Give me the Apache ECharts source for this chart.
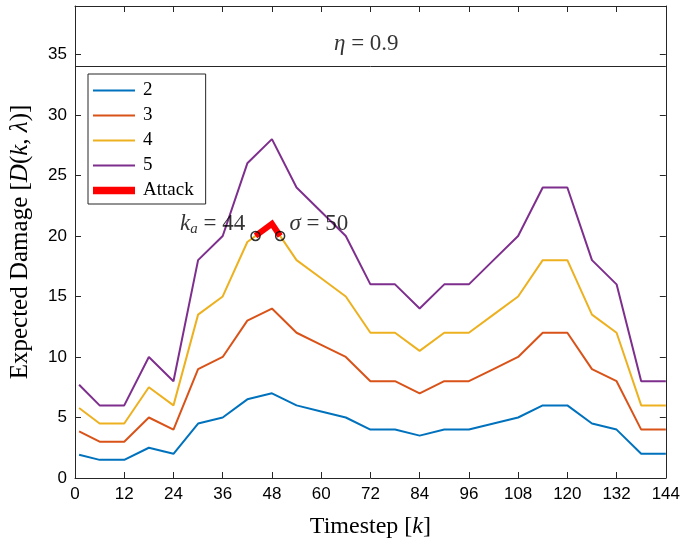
<!DOCTYPE html>
<html>
<head>
<meta charset="utf-8">
<script src="https://cdn.jsdelivr.net/npm/echarts@6/dist/echarts.min.js"></script>
<style>
  html, body { margin: 0; padding: 0; background: #fff; }
  #main { width: 683px; height: 548px; }
</style>
</head>
<body>
<div id="main"></div>
<script>
  // timesteps and expected damage for each lambda
  var steps = [1, 6, 12, 18, 24, 30, 36, 42, 48, 54, 60, 66, 72, 78, 84, 90, 96, 102, 108, 114, 120, 126, 132, 138, 144];
  var dmg2 = [1.92, 1.5, 1.5, 2.5, 2, 4.5, 5, 6.5, 7, 6, 5.5, 5, 4, 4, 3.5, 4, 4, 4.5, 5, 6, 6, 4.5, 4, 2, 2];
  var dmg3 = [3.85, 3, 3, 5, 4, 9, 10, 13, 14, 12, 11, 10, 8, 8, 7, 8, 8, 9, 10, 12, 12, 9, 8, 4, 4];
  var dmg4 = [5.78, 4.5, 4.5, 7.5, 6, 13.5, 15, 19.5, 21, 18, 16.5, 15, 12, 12, 10.5, 12, 12, 13.5, 15, 18, 18, 13.5, 12, 6, 6];
  var dmg5 = [7.7, 6, 6, 10, 8, 18, 20, 26, 28, 24, 22, 20, 16, 16, 14, 16, 16, 18, 20, 24, 24, 18, 16, 8, 8];
  var attackX = [44, 48, 50];
  var attackY = [20, 21, 20];
  var bandY = 34;
  var yMax = 39;

  var colors = ['#0072BD', '#D95319', '#EDB120', '#7E2F8E'];
  var serif = '"Liberation Serif", "DejaVu Serif", serif';
  var sans = '"Liberation Sans", Arial, sans-serif';
  var axisCol = '#262626';

  function pairs(xs, ys) {
    return xs.map(function (x, i) { return [x, ys[i]]; });
  }

  function lineSeries(name, ys, color) {
    return {
      name: name,
      type: 'line',
      data: pairs(steps, ys),
      showSymbol: false,
      symbol: 'none',
      lineStyle: { color: color, width: 2 },
      itemStyle: { color: color },
      z: 3
    };
  }

  function ticks() {
    return { show: true, inside: true, length: 6, lineStyle: { color: axisCol } };
  }

  var myChart = echarts.init(document.getElementById('main'));

  var thin = 'path://M0,0H40V2H0Z';
  var thick = 'path://M0,0H40V7H0Z';

  var option = {
    animation: false,
    grid: { left: 74, right: 14, top: 6, bottom: 70 },
    legend: {
      orient: 'vertical',
      left: 88,
      top: 74,
      padding: [7, 12, 4, 5],
      itemWidth: 42,
      itemHeight: 14,
      itemGap: 6,
      backgroundColor: '#fff',
      borderColor: axisCol,
      borderWidth: 1,
      borderRadius: 0,
      textStyle: { fontFamily: serif, fontSize: 19, lineHeight: 17, color: '#000', padding: [0, 0, 0, 3] },
      data: [
        { name: '2', icon: thin },
        { name: '3', icon: thin },
        { name: '4', icon: thin },
        { name: '5', icon: thin },
        { name: 'Attack', icon: thick }
      ]
    },
    xAxis: [{
      type: 'value',
      min: 0,
      max: 144,
      interval: 12,
      name: 'Timestep [{it|k}]',
      nameLocation: 'middle',
      nameGap: 37,
      nameTextStyle: {
        fontFamily: serif, fontSize: 24, color: '#000',
        rich: { it: { fontFamily: serif, fontStyle: 'italic', fontSize: 24, color: '#000' } }
      },
      axisLine: { onZero: false, lineStyle: { color: axisCol } },
      axisTick: ticks(),
      axisLabel: { fontFamily: sans, fontSize: 17, color: '#000', margin: 8 },
      splitLine: { show: false }
    }, {
      type: 'value',
      position: 'top',
      min: 0,
      max: 144,
      interval: 12,
      axisLine: { show: true, onZero: false, lineStyle: { color: axisCol } },
      axisTick: ticks(),
      axisLabel: { show: false },
      splitLine: { show: false }
    }],
    yAxis: [{
      type: 'value',
      min: 0,
      max: yMax,
      interval: 5,
      name: 'Expected Damage [{it|D}({it|k}, {it|λ})]',
      nameLocation: 'middle',
      nameGap: 42,
      nameTextStyle: {
        fontFamily: serif, fontSize: 25, color: '#000',
        rich: { it: { fontFamily: serif, fontStyle: 'italic', fontSize: 25, color: '#000' } }
      },
      axisLine: { show: true, onZero: false, lineStyle: { color: axisCol } },
      axisTick: ticks(),
      axisLabel: {
        fontFamily: sans, fontSize: 17, color: '#000', margin: 8,
        showMaxLabel: false
      },
      splitLine: { show: false }
    }, {
      type: 'value',
      position: 'right',
      min: 0,
      max: yMax,
      interval: 5,
      axisLine: { show: true, onZero: false, lineStyle: { color: axisCol } },
      axisTick: ticks(),
      axisLabel: { show: false },
      splitLine: { show: false }
    }],
    series: [
      lineSeries('2', dmg2, colors[0]),
      lineSeries('3', dmg3, colors[1]),
      lineSeries('4', dmg4, colors[2]),
      lineSeries('5', dmg5, colors[3]),
      {
        name: 'Attack',
        type: 'line',
        data: pairs(attackX, attackY),
        symbol: 'none',
        lineStyle: { color: '#FF0000', width: 6, join: 'miter' },
        itemStyle: { color: '#FF0000' },
        z: 5
      },
      {
        // attack start / end markers with labels
        name: 'marks',
        type: 'scatter',
        data: [
          { value: [attackX[0], attackY[0]], label: { show: true, position: 'left', distance: 5, offset: [0, -12], formatter: '{i|k}{s|a}{n| = 44}' } },
          { value: [attackX[2], attackY[2]], label: { show: true, position: 'right', distance: 4, offset: [0, -12], formatter: '{i|σ}{n| = 50}' } }
        ],
        symbol: 'circle',
        symbolSize: 9,
        itemStyle: { color: 'rgba(0,0,0,0)', borderColor: '#000', borderWidth: 1.5 },
        label: {
          color: '#000',
          rich: {
            i: { fontFamily: serif, fontStyle: 'italic', fontSize: 23, color: '#000' },
            s: { fontFamily: serif, fontStyle: 'italic', fontSize: 15, color: '#000', padding: [11, 0, 0, 0] },
            n: { fontFamily: serif, fontSize: 23, color: '#000' }
          }
        },
        silent: true,
        z: 6
      },
      {
        // separator line of the title band
        name: 'band',
        type: 'line',
        data: [[0, bandY], [144, bandY]],
        symbol: 'none',
        lineStyle: { color: axisCol, width: 1 },
        silent: true,
        z: 2
      },
      {
        name: 'eta',
        type: 'scatter',
        data: [[71, 35.9]],
        symbolSize: 0,
        label: {
          show: true,
          position: 'inside',
          formatter: '{i|η}{n| = 0.9}',
          rich: {
            i: { fontFamily: serif, fontStyle: 'italic', fontSize: 23, color: '#000' },
            n: { fontFamily: serif, fontSize: 23, color: '#000' }
          }
        },
        silent: true
      }
    ]
  };

  myChart.setOption(option);
</script>
</body>
</html>
